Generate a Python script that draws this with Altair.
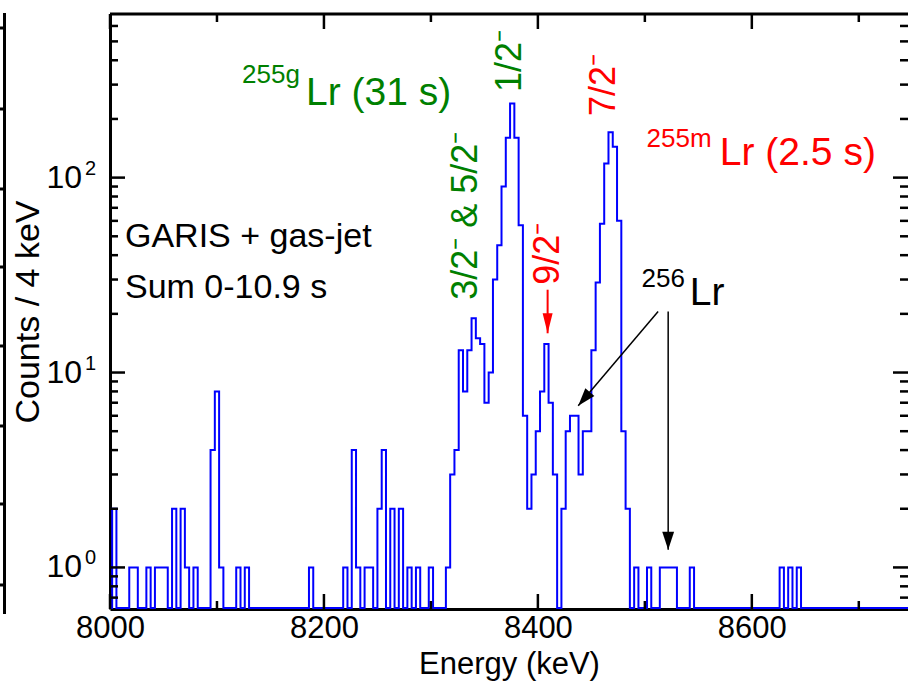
import altair as alt
import pandas as pd
import numpy as np

# ---------------- data ----------------
# 4-keV bins, identified by centre energy (keV); bins not listed are empty
bin_centre = [8004, 8020, 8024, 8036, 8044, 8048, 8052, 8060, 8068, 8072, 8080,
              8096, 8100, 8104, 8120, 8128, 8188,
              8220, 8228, 8232, 8240, 8244, 8252, 8256, 8264, 8272, 8280, 8288, 8300,
              8316, 8320, 8324, 8328, 8332, 8336, 8340, 8344, 8348, 8352, 8356, 8360,
              8364, 8368, 8372, 8376, 8380, 8384, 8388, 8392, 8396, 8400, 8404, 8408,
              8412, 8416, 8424, 8428, 8432, 8436, 8440, 8444, 8448, 8452, 8456, 8460,
              8464, 8468, 8472, 8476, 8480, 8484,
              8492, 8504, 8516, 8520, 8524, 8528, 8544, 8628, 8636, 8644]
bin_count = [2, 1, 1, 1, 1, 1, 1, 2, 2, 1, 1,
             4, 8, 1, 1, 1, 1,
             1, 4, 1, 1, 1, 2, 4, 2, 2, 1, 1, 1,
             1, 3, 4, 13, 8, 13, 19, 15, 14, 7, 10, 30,
             45, 90, 160, 240, 160, 57, 6, 2, 3, 5, 8, 14,
             7, 3, 2, 5, 6, 6, 3, 5, 5, 13, 29, 58,
             118, 171, 144, 60, 5, 2,
             1, 1, 1, 1, 1, 1, 1, 1, 1, 1]

x_labels = [8000, 8200, 8400, 8600]
x_major = [8000, 8200, 8400, 8600]
x_minor = [8100, 8300, 8500, 8700]
y_major = [1, 10, 100]
y_exponent = ["0", "1", "2"]
y_minor = [0.7, 0.8, 0.9, 2, 3, 4, 5, 6, 7, 8, 9,
           20, 30, 40, 50, 60, 70, 80, 90, 200, 300, 400, 500, 600]

# ---------------- layout ----------------
W, H = 798, 595
FONT = "Liberation Sans"
GREEN, RED, BLUE = "#008000", "#ff0000", "#0000ff"
EMPTY_LEVEL = 0.62          # where empty bins are drawn (bottom of the log axis)

xs = alt.Scale(domain=[8000, 8746], nice=False, zero=False)
ys = alt.Scale(type="log", domain=[0.612, 691], nice=False)

# full histogram on a 4-keV grid
centres = np.arange(8000, 8752, 4)
lookup = dict(zip(bin_centre, bin_count))
vals = [lookup.get(int(c), 0) for c in centres]
edges = [float(c) - 2 for c in centres] + [float(centres[-1]) + 2]
vals = vals + [vals[-1]]
hist = pd.DataFrame({"E": edges, "n": vals})
hist["y"] = hist["n"].where(hist["n"] > 0, EMPTY_LEVEL)

X_AXIS = alt.Axis(values=x_labels, format="d", labelFont=FONT, labelFontSize=31,
                  labelColor="black", labelFlush=False, labelOverlap=False,
                  ticks=False, tickSize=0, labelPadding=4,
                  domain=True, domainColor="black", domainWidth=3, grid=False,
                  title="Energy (keV)", titleFont=FONT, titleFontSize=31,
                  titleFontWeight="normal", titleColor="black", titleY=64,
                  titleBaseline="alphabetic")
Y_AXIS = alt.Axis(labels=False, ticks=False, tickSize=0, domain=True,
                  domainColor="black", domainWidth=3, grid=False,
                  title="Counts / 4 keV", titleFont=FONT, titleFontSize=34,
                  titleFontWeight="normal", titleColor="black", titleX=-82,
                  titleY=H / 2, titleAngle=270, titleBaseline="middle",
                  titleAlign="center")


def xq(field="v"):
    return alt.X(f"{field}:Q", scale=xs, axis=X_AXIS)


def yq(field="v"):
    return alt.Y(f"{field}:Q", scale=ys, axis=Y_AXIS)


hist_line = alt.Chart(hist).mark_line(
    interpolate="step-after", color=BLUE, strokeWidth=2, clip=True
).encode(x=xq("E"), y=yq("y"))

TW = 2.5
layers = [hist_line]
# inward ticks on all four sides
for vals_, ln in ((x_major, 15), (x_minor, 8)):
    d = alt.Chart(pd.DataFrame({"v": vals_})).mark_rule(color="black", strokeWidth=TW)
    layers.append(d.encode(x=xq(), y=alt.value(H), y2=alt.value(H - ln)))
    layers.append(d.encode(x=xq(), y=alt.value(0), y2=alt.value(ln)))
for vals_, ln in ((y_major, 15), (y_minor, 8)):
    d = alt.Chart(pd.DataFrame({"v": vals_})).mark_rule(color="black", strokeWidth=TW)
    layers.append(d.encode(y=yq(), x=alt.value(0), x2=alt.value(ln)))
    layers.append(d.encode(y=yq(), x=alt.value(W - ln), x2=alt.value(W)))
# top frame line
layers.append(alt.Chart(pd.DataFrame({"v": [0]})).mark_rule(color="black", strokeWidth=3)
              .encode(x=alt.value(0), x2=alt.value(W), y=alt.value(0)))
# edge of the neighbouring (cropped) panel, with its outward ticks
frag = alt.Chart(pd.DataFrame({"v": [0]})).mark_rule(color="black", strokeWidth=3)
layers.append(frag.encode(x=alt.value(-105.5), y=alt.value(-1), y2=alt.value(600)))
for ty in (14, 95, 175, 253, 332, 412, 490, 571):
    layers.append(frag.encode(x=alt.value(-110), x2=alt.value(-105.5), y=alt.value(ty)))

# y tick labels 10^n
ylab = alt.Chart(pd.DataFrame({"v": y_major, "e": y_exponent})).encode(y=yq())
layers.append(ylab.mark_text(text="10", align="right", baseline="middle", font=FONT,
                             fontSize=32, color="black").encode(x=alt.value(-28)))
layers.append(ylab.mark_text(align="left", baseline="middle", font=FONT, fontSize=20,
                             dy=-9, color="black").encode(x=alt.value(-25), text="e:N"))


def label(txt, E, c, size, color, angle=0, align="left", baseline="alphabetic"):
    return alt.Chart(pd.DataFrame({"E": [E], "c": [c], "t": [txt]})).mark_text(
        align=align, baseline=baseline, fontSize=size, font=FONT, color=color, angle=angle
    ).encode(x=xq("E"), y=yq("c"), text="t:N")


layers += [
    label("255g", 8123.4, 305, 26, GREEN),
    label("Lr (31 s)", 8183.2, 236, 39, GREEN),
    label("255m", 8501.6, 144, 26, RED),
    label("Lr (2.5 s)", 8570.1, 116, 39, RED),
    label("256", 8496.9, 27.6, 26, "black"),
    label("Lr", 8542, 22.2, 39, "black"),
    label("GARIS + gas-jet", 8014, 44, 34, "black"),
    label("Sum 0-10.9 s", 8014, 24.2, 34, "black"),
    label("1/2\u207b", 8373.8, 275, 36, GREEN, angle=270, baseline="middle"),
    label("3/2\u207b & 5/2\u207b", 8333.2, 23.6, 36, GREEN, angle=270, baseline="middle"),
    label("7/2\u207b", 8461.7, 207, 36, RED, angle=270, baseline="middle"),
    label("9/2\u207b", 8409.3, 28.2, 36, RED, angle=270, baseline="middle"),
]


def arrow(E0, c0, E1, c1, color, width, head_len, half_w, angle):
    seg = pd.DataFrame({"E": [E0, E1], "c": [c0, c1], "o": [0, 1]})
    line = alt.Chart(seg).mark_line(color=color, strokeWidth=width).encode(
        x=xq("E"), y=yq("c"), order="o:O")
    path = f"M0,0L{-half_w},-1L{half_w},-1Z"
    head = alt.Chart(pd.DataFrame({"E": [E1], "c": [c1]})).mark_point(
        shape=path, filled=True, size=(2 * head_len) ** 2, color=color, opacity=1,
        angle=angle, strokeWidth=0).encode(x=xq("E"), y=yq("c"))
    return [line, head]


layers += arrow(8512.4, 20.55, 8437.7, 6.75, "black", 1.5, 18, 0.33, 40.3)
layers += arrow(8521.8, 20.55, 8521.8, 1.233, "black", 1.5, 18, 0.33, 0)
layers += arrow(8409.1, 26.6, 8409.1, 15.9, RED, 2, 20, 0.25, 0)

chart = alt.layer(*layers).properties(
    width=W, height=H,
    padding={"left": 110, "top": 14, "right": 0, "bottom": 72},
    autosize=alt.AutoSizeParams(type="none"),
    background="white",
).configure_view(stroke=None)

chart.save("out.html", embed_options={"renderer": "svg", "actions": False})
